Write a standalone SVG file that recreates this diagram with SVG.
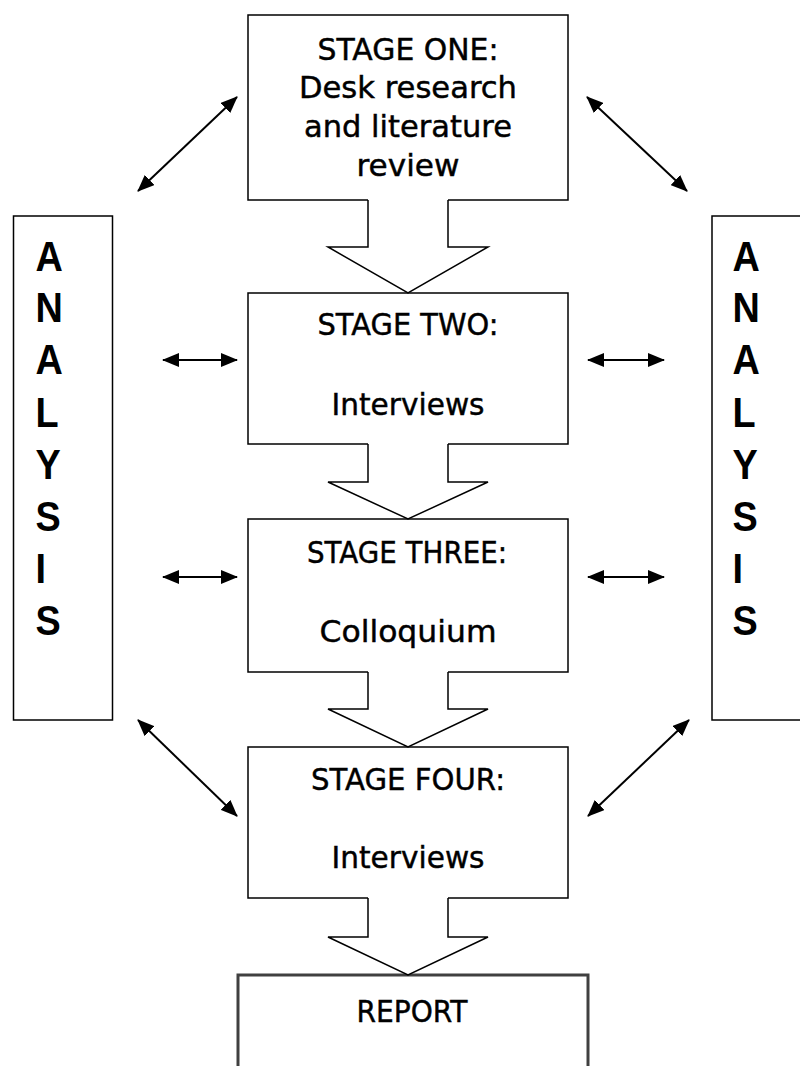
<svg xmlns="http://www.w3.org/2000/svg" width="800" height="1066" viewBox="0 0 800 1066">
<style>
.box{fill:#fff;stroke:#000;stroke-width:1.5}
.report{fill:#fff;stroke:#404040;stroke-width:3}
.st{font-family:"DejaVu Sans","Liberation Sans",sans-serif;font-size:30.5px;fill:#000;stroke:#000;stroke-width:0.45;text-anchor:middle}
.an{font-family:"Liberation Sans",Arial,sans-serif;font-size:43px;font-weight:bold;fill:#000}
.ln{stroke:#000;stroke-width:2;fill:none;marker-start:url(#ah);marker-end:url(#ah)}
.bfill{fill:#fff;stroke:none}
.bline{fill:none;stroke:#000;stroke-width:1.5;stroke-linejoin:miter}
</style>
<defs>
<marker id="ah" viewBox="0 0 17 14" refX="16" refY="7" markerWidth="17" markerHeight="14" orient="auto-start-reverse" markerUnits="userSpaceOnUse">
<path d="M0,0 L17,7 L0,14 Z" fill="#000"/>
</marker>
</defs>
<rect width="800" height="1066" fill="#fff"/>

<g id="analysis-left">
<rect class="box" x="13.5" y="216" width="99" height="504"/>
<g transform="translate(35.5 0) scale(0.88 1)">
<text class="an"><tspan x="0" y="271">A</tspan><tspan x="0" y="322">N</tspan><tspan x="0" y="374">A</tspan><tspan x="0" y="427">L</tspan><tspan x="0" y="479">Y</tspan><tspan x="0" y="531">S</tspan><tspan x="0" y="583">I</tspan><tspan x="0" y="635">S</tspan></text>
</g>
</g>

<g id="analysis-right">
<rect class="box" x="712" y="216" width="100" height="504"/>
<g transform="translate(732.5 0) scale(0.88 1)">
<text class="an"><tspan x="0" y="271">A</tspan><tspan x="0" y="322">N</tspan><tspan x="0" y="374">A</tspan><tspan x="0" y="427">L</tspan><tspan x="0" y="479">Y</tspan><tspan x="0" y="531">S</tspan><tspan x="0" y="583">I</tspan><tspan x="0" y="635">S</tspan></text>
</g>
</g>

<g id="stage-one">
<rect class="box" x="248" y="15" width="320" height="185"/>
<text class="st" x="408" y="60" textLength="181" lengthAdjust="spacingAndGlyphs">STAGE ONE:</text>
<text class="st" x="408" y="98" textLength="218" lengthAdjust="spacingAndGlyphs">Desk research</text>
<text class="st" x="408" y="137" textLength="208" lengthAdjust="spacingAndGlyphs">and literature</text>
<text class="st" x="408" y="176" textLength="103" lengthAdjust="spacingAndGlyphs">review</text>
</g>

<g id="stage-two">
<rect class="box" x="248" y="293" width="320" height="151"/>
<text class="st" x="408" y="335" textLength="181" lengthAdjust="spacingAndGlyphs">STAGE TWO:</text>
<text class="st" x="408" y="415" textLength="153" lengthAdjust="spacingAndGlyphs">Interviews</text>
</g>

<g id="stage-three">
<rect class="box" x="248" y="519" width="320" height="153"/>
<text class="st" x="407" y="563" textLength="200" lengthAdjust="spacingAndGlyphs">STAGE THREE:</text>
<text class="st" x="408" y="642" textLength="177" lengthAdjust="spacingAndGlyphs">Colloquium</text>
</g>

<g id="stage-four">
<rect class="box" x="248" y="747" width="320" height="151"/>
<text class="st" x="408" y="790" textLength="194" lengthAdjust="spacingAndGlyphs">STAGE FOUR:</text>
<text class="st" x="408" y="868" textLength="153" lengthAdjust="spacingAndGlyphs">Interviews</text>
</g>

<g id="report">
<rect class="report" x="238" y="975" width="350" height="120"/>
<text class="st" x="412" y="1022" textLength="111" lengthAdjust="spacingAndGlyphs">REPORT</text>
</g>

<g id="connectors">
<path class="bfill" d="M368,198 V247 H328 L408,293 L488,247 H448 V198 Z"/>
<path class="bline" d="M368,200 V247 H328 L408,293 L488,247 H448 V200"/>
<path class="bfill" d="M368,442 V482 H328 L408,519 L488,482 H448 V442 Z"/>
<path class="bline" d="M368,444 V482 H328 L408,519 L488,482 H448 V444"/>
<path class="bfill" d="M368,670 V709 H328 L408,747 L488,709 H448 V670 Z"/>
<path class="bline" d="M368,672 V709 H328 L408,747 L488,709 H448 V672"/>
<path class="bfill" d="M368,896 V937 H328 L408,975 L488,937 H448 V896 Z"/>
<path class="bline" d="M368,898 V937 H328 L408,975 L488,937 H448 V898"/>

<line class="ln" x1="138" y1="191" x2="237" y2="97"/>
<line class="ln" x1="587" y1="97" x2="687" y2="191"/>
<line class="ln" x1="163" y1="360" x2="237" y2="360"/>
<line class="ln" x1="588" y1="360" x2="664" y2="360"/>
<line class="ln" x1="163" y1="577" x2="237" y2="577"/>
<line class="ln" x1="588" y1="577" x2="664" y2="577"/>
<line class="ln" x1="138" y1="720" x2="237" y2="816"/>
<line class="ln" x1="689" y1="720" x2="588" y2="816"/>
</g>
</svg>
